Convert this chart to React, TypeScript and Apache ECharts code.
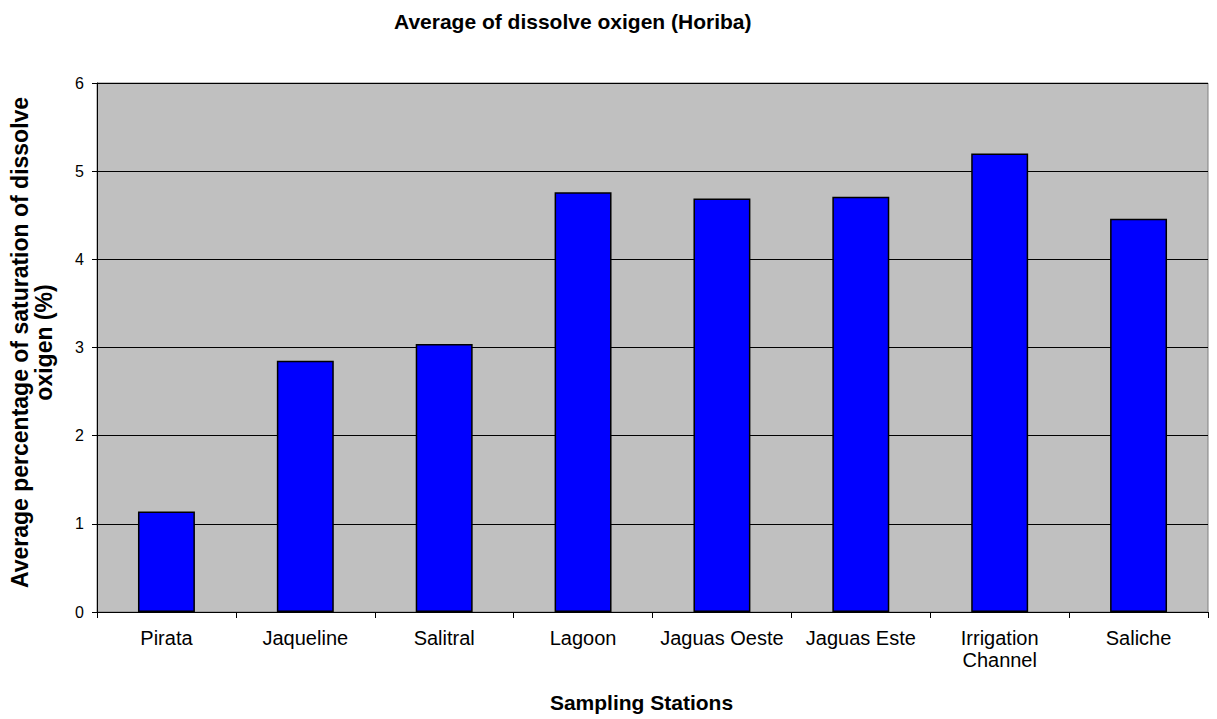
import React, { useEffect, useRef } from "react";
import * as echarts from "echarts";

// Sampling stations and their average dissolved-oxygen saturation
const stations = [
  "Pirata",
  "Jaqueline",
  "Salitral",
  "Lagoon",
  "Jaguas Oeste",
  "Jaguas Este",
  "Irrigation\nChannel",
  "Saliche",
];
const avgOxygen = [1.14, 2.85, 3.04, 4.76, 4.69, 4.71, 5.2, 4.46];
const yTicks = [0, 1, 2, 3, 4, 5, 6];

const FONT = "'Liberation Sans', Arial, sans-serif";

export default function App() {
  const ref = useRef<HTMLDivElement>(null);

  useEffect(() => {
    if (!ref.current) return;
    const chart = echarts.init(ref.current, null, { renderer: "svg" });
    chart.setOption({
      animation: false,
      backgroundColor: "#ffffff",
      textStyle: { fontFamily: FONT },
      title: {
        text: "Average of dissolve oxigen (Horiba)",
        left: 389,
        top: 6,
        textStyle: { fontFamily: FONT, fontSize: 21, fontWeight: "bold", color: "#000" },
      },
      grid: {
        left: 97,
        right: 9,
        top: 83,
        bottom: 107,
        outerBoundsMode: "none",
        containLabel: false,
        show: true,
        backgroundColor: "#C0C0C0",
        borderColor: "#808080",
        borderWidth: 1,
      },
      xAxis: {
        type: "category",
        data: stations,
        name: "Sampling Stations",
        nameLocation: "middle",
        nameGap: 80,
        nameTextStyle: {
          fontFamily: FONT,
          fontSize: 21,
          fontWeight: "bold",
          color: "#000",
          padding: [0, 22, 0, 0],
        },
        axisLine: { lineStyle: { color: "#000", width: 1 } },
        axisTick: { show: true, length: 6, alignWithLabel: false, lineStyle: { color: "#000" } },
        axisLabel: {
          fontFamily: FONT,
          fontSize: 20,
          color: "#000",
          margin: 15,
          lineHeight: 22,
          interval: 0,
        },
      },
      yAxis: {
        type: "value",
        min: yTicks[0],
        max: yTicks[yTicks.length - 1],
        interval: 1,
        name: "Average percentage of saturation of dissolve\noxigen (%)",
        nameLocation: "middle",
        nameRotate: 90,
        nameGap: 41,
        nameTextStyle: {
          fontFamily: FONT,
          fontSize: 23,
          fontWeight: "bold",
          color: "#000",
          lineHeight: 24,
          align: "center",
          padding: [0, 0, 0, 10],
        },
        axisLine: { show: true, lineStyle: { color: "#000", width: 1 } },
        axisTick: { show: true, length: 5, lineStyle: { color: "#000" } },
        axisLabel: { fontFamily: FONT, fontSize: 16, color: "#000", margin: 13 },
        splitLine: { show: true, lineStyle: { color: "#000", width: 1 } },
      },
      series: [
        {
          type: "bar",
          data: avgOxygen,
          barCategoryGap: "59%",
          itemStyle: { color: "#0000FF", borderColor: "#000", borderWidth: 1.5 },
        },
      ],
    });
    return () => chart.dispose();
  }, []);

  return <div ref={ref} style={{ width: 1217, height: 719, position: "absolute", left: 0, top: 0 }} />;
}
